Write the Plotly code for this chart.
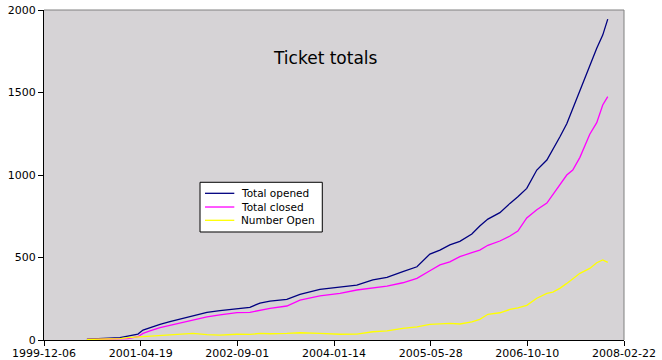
import plotly.graph_objects as go

dates = ["2000-07-15", "2001-01-02", "2001-02-11", "2001-04-05", "2001-05-01", "2001-06-06",
         "2001-07-28", "2001-09-17", "2001-11-08", "2002-01-14", "2002-03-28", "2002-06-03",
         "2002-08-30", "2002-11-05", "2002-12-27", "2003-02-17", "2003-05-15", "2003-07-22",
         "2003-11-02", "2004-02-14", "2004-05-11", "2004-08-02", "2004-10-14", "2005-01-04",
         "2005-03-18", "2005-05-24", "2005-07-15", "2005-09-04", "2005-10-26", "2005-12-27",
         "2006-02-06", "2006-03-20", "2006-05-21", "2006-07-12", "2006-08-22", "2006-10-07",
         "2006-11-28", "2007-01-19", "2007-02-19", "2007-03-27", "2007-05-02", "2007-06-02",
         "2007-07-09", "2007-08-29", "2007-10-04", "2007-11-04", "2007-11-30"]

total_opened = [5, 14, 24, 36, 60, 75, 95, 111, 127, 145, 168, 178, 188, 198, 224, 236, 246,
                276, 307, 319, 333, 364, 380, 414, 444, 521, 545, 576, 598, 642, 691, 733,
                772, 828, 868, 919, 1030, 1091, 1152, 1230, 1310, 1404, 1514, 1667, 1768,
                1848, 1945]
total_closed = [3, 5, 8, 20, 40, 55, 75, 88, 103, 121, 140, 152, 166, 168, 182, 192, 206,
                242, 267, 283, 303, 318, 327, 347, 374, 420, 455, 474, 505, 530, 545, 574,
                600, 630, 660, 740, 790, 830, 879, 939, 1000, 1030, 1107, 1247, 1317, 1424,
                1475]
number_open = [3, 8, 14, 18, 20, 22, 28, 32, 37, 40, 32, 30, 35, 34, 40, 38, 40, 44, 40, 35,
               36, 50, 55, 71, 80, 95, 98, 101, 97, 110, 125, 156, 165, 185, 195, 210, 253,
               283, 290, 313, 343, 370, 404, 434, 468, 485, 470]

series_names = ["Total opened", "Total closed", "Number Open"]
series_colors = ["#000080", "#ff00ff", "#ffff00"]

x_ticks = ["1999-12-06", "2001-04-19", "2002-09-01", "2004-01-14", "2005-05-28",
           "2006-10-10", "2008-02-22"]
y_ticks = [0, 500, 1000, 1500, 2000]

font = "DejaVu Sans, Verdana, sans-serif"

fig = go.Figure()
for name, vals, col in zip(series_names, [total_opened, total_closed, number_open], series_colors):
    fig.add_trace(go.Scatter(x=dates, y=vals, mode="lines", name=name,
                             line=dict(color=col, width=1.3), showlegend=False))

# plot-area border (top/right grey)
shapes = [dict(type="line", xref="paper", yref="paper", x0=0, x1=1, y0=1, y1=1,
               line=dict(color="#808080", width=1)),
          dict(type="line", xref="paper", yref="paper", x0=1, x1=1, y0=0, y1=1,
               line=dict(color="#808080", width=1))]

# legend box drawn inside the plot area
shapes.append(dict(type="rect", xref="paper", yref="paper",
                   x0=0.269, x1=0.4798, y0=0.3273, y1=0.4779,
                   fillcolor="white", line=dict(color="black", width=1)))
legend_y = [0.4445, 0.4030, 0.3627]
annotations = []
for name, col, ly in zip(series_names, series_colors, legend_y):
    shapes.append(dict(type="line", xref="paper", yref="paper",
                       x0=0.2776, x1=0.3281, y0=ly, y1=ly,
                       line=dict(color=col, width=1.3)))
    annotations.append(dict(text=name, xref="paper", yref="paper", x=0.3367, y=ly,
                            xanchor="left", yanchor="middle", showarrow=False,
                            font=dict(family=font, size=10.5, color="black")))

annotations.append(dict(text="Ticket totals", xref="paper", yref="paper",
                        x=0.4845, y=0.891, showarrow=False,
                        font=dict(family=font, size=17, color="black")))

fig.update_layout(
    width=662, height=360,
    margin=dict(l=44, r=38, t=10, b=20, autoexpand=False),
    paper_bgcolor="white",
    plot_bgcolor="#d6d3d6",
    font=dict(family=font, size=11, color="black"),
    showlegend=False,
    xaxis=dict(type="date", range=[x_ticks[0], x_ticks[-1]],
               tickvals=x_ticks, ticktext=x_ticks, automargin=False,
               showgrid=False, zeroline=False,
               showline=True, linecolor="black", linewidth=1,
               ticks="outside", ticklen=5, tickcolor="black",
               ticklabelstandoff=-2,
               tickfont=dict(family=font, size=11, color="black")),
    yaxis=dict(range=[0, 2000], tickvals=y_ticks, automargin=False,
               showgrid=False, zeroline=False,
               showline=True, linecolor="black", linewidth=1,
               ticks="outside", ticklen=5, tickcolor="black",
               tickfont=dict(family=font, size=11, color="black")),
    shapes=shapes,
    annotations=annotations,
)

fig.write_html("out.html", config={"displayModeBar": False},
               post_script="document.body.style.margin='0px';document.body.style.overflow='hidden';")
